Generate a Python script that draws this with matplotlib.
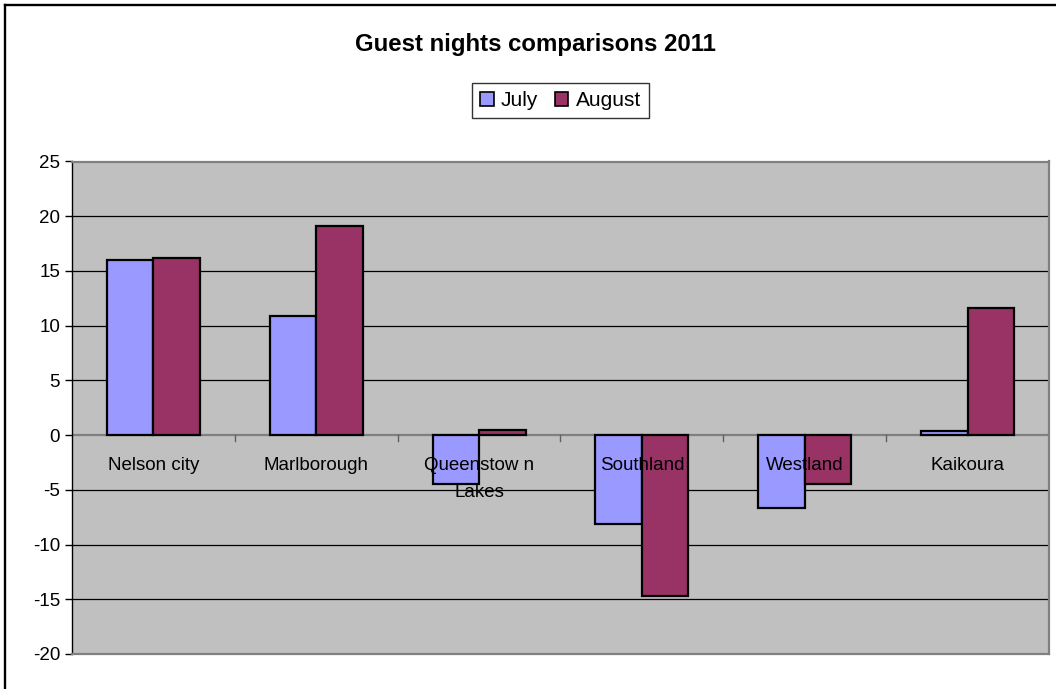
import matplotlib
matplotlib.use("Agg")
import matplotlib.pyplot as plt
from matplotlib.patches import Patch
from matplotlib.lines import Line2D
import numpy as np

plt.rcParams['font.family'] = ['Liberation Sans', 'DejaVu Sans']

# Percentage change in guest nights by region
regions = ["Nelson city", "Marlborough", "Queenstow n\nLakes", "Southland", "Westland", "Kaikoura"]
july = [16.0, 10.9, -4.5, -8.1, -6.7, 0.4]
august = [16.2, 19.1, 0.5, -14.7, -4.5, 11.6]
y_ticks = [-20, -15, -10, -5, 0, 5, 10, 15, 20, 25]

july_color = "#9999FF"
august_color = "#993366"
plot_bg = "#C0C0C0"

fig = plt.figure(figsize=(10.56, 6.89), dpi=100)
fig.patch.set_facecolor("white")

ax = fig.add_axes([72 / 1056, 1 - 654 / 689, (1049 - 72) / 1056, (654 - 161.5) / 689])
ax.set_facecolor(plot_bg)

x = np.arange(len(regions))
w = 1 / 3.5
ax.bar(x - w / 2, july, width=w, color=july_color, edgecolor="black", linewidth=1.6, zorder=3)
ax.bar(x + w / 2, august, width=w, color=august_color, edgecolor="black", linewidth=1.6, zorder=3)

ax.set_xlim(-0.5, len(regions) - 0.5)
ax.set_ylim(min(y_ticks), max(y_ticks))

# horizontal gridlines
for t in y_ticks[1:-1]:
    if t != 0:
        ax.axhline(t, color="black", linewidth=0.9, zorder=1)
ax.axhline(0, color="#808080", linewidth=1.6, zorder=2)

# category divider ticks below the zero line
for b in x[:-1] + 0.5:
    ax.plot([b, b], [0, -0.55], color="#606060", linewidth=1.0, zorder=2)

# category labels hanging below the zero line
for i, name in enumerate(regions):
    ax.annotate(name, xy=(i, 0), xytext=(0, -16), textcoords="offset points",
                ha="center", va="top", fontsize=13.5, linespacing=1.75,
                color="black", zorder=4)

ax.set_xticks([])
ax.set_yticks(y_ticks)
ax.set_yticklabels([str(t) for t in y_ticks], fontsize=13.5)
ax.tick_params(axis="y", direction="out", length=5, width=1, pad=3.5, color="black")

for side in ["top", "right", "bottom"]:
    ax.spines[side].set_color("#808080")
    ax.spines[side].set_linewidth(1.6)
ax.spines["left"].set_color("black")
ax.spines["left"].set_linewidth(1.0)

fig.text(535 / 1056, 1 - 45 / 689, "Guest nights comparisons 2011",
         ha="center", va="center", fontsize=17.3, fontweight="bold")

handles = [Patch(facecolor=july_color, edgecolor="black", linewidth=1.2),
           Patch(facecolor=august_color, edgecolor="black", linewidth=1.2)]
leg = fig.legend(handles, ["July", "August"], loc="center",
                 bbox_to_anchor=(560.5 / 1056, 1 - 100.5 / 689),
                 ncol=2, fontsize=15, frameon=True, fancybox=False,
                 handlelength=0.65, handleheight=0.65, handletextpad=0.35,
                 columnspacing=0.8, borderpad=0.4, borderaxespad=0)
leg.get_frame().set_edgecolor("black")
leg.get_frame().set_linewidth(1.0)

# chart frame: left and top edges
fx = 5.3 / 1056
fy = 1 - 4.5 / 689
fig.lines.append(Line2D([fx, fx], [0, fy], transform=fig.transFigure,
                        color="black", linewidth=1.7))
fig.lines.append(Line2D([fx, 1], [fy, fy], transform=fig.transFigure,
                        color="black", linewidth=1.7))

fig.savefig("out.png", dpi=100)
